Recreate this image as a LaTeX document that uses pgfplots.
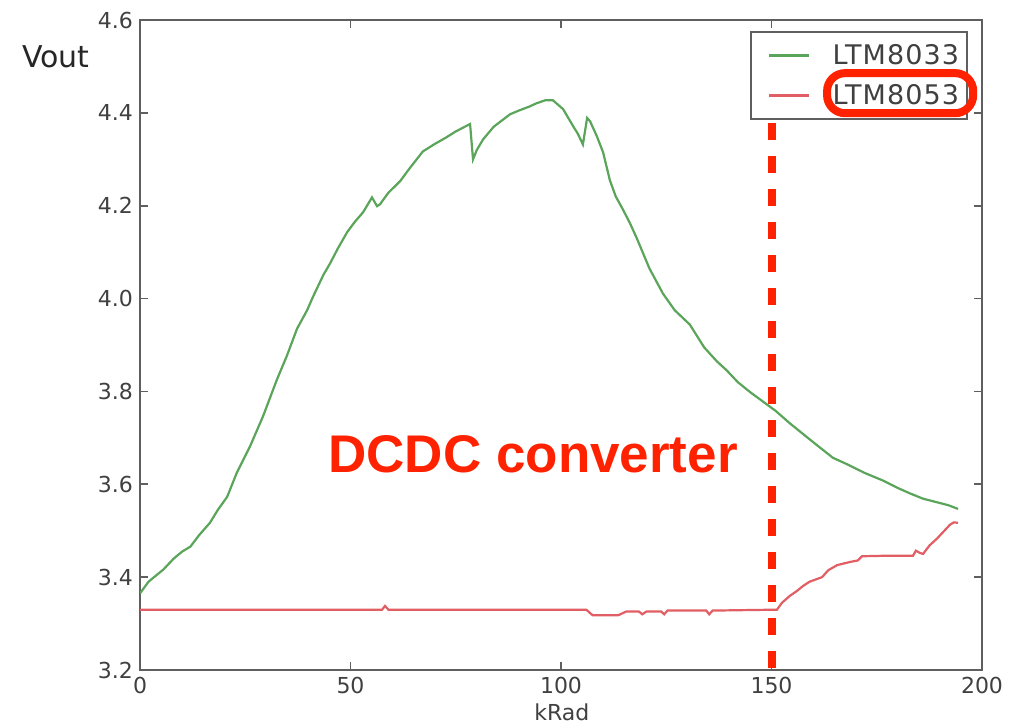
\documentclass[border=0pt]{standalone}
\usepackage{pgfplots}
\pgfplotsset{compat=1.18}
\usepackage{fontspec}
\setmainfont{DejaVu Sans}
\newfontfamily\helv{Liberation Sans}
\newfontfamily\legfont[LetterSpace=4]{DejaVu Sans}

\definecolor{mplgreen}{RGB}{90,165,90}
\definecolor{mplred}{RGB}{225,95,100}
\definecolor{annot}{RGB}{255,34,0}
\definecolor{framegray}{RGB}{95,95,95}

\begin{document}
\begin{tikzpicture}
\begin{axis}[
    scale only axis,
    width=421pt, height=325pt,
    xmin=0, xmax=200,
    ymin=3.2, ymax=4.6,
    xtick={0,50,100,150,200},
    ytick={3.2,3.4,3.6,3.8,4.0,4.2,4.4,4.6},
    yticklabel style={/pgf/number format/.cd, fixed, fixed zerofill, precision=1},
    /pgf/number format/assume math mode=true,
    tick align=inside,
    major tick length=4pt,
    axis line style={framegray, line width=1.3pt},
    tick style={framegray, line width=0.8pt},
    ticklabel style={font=\fontsize{11}{13}\selectfont, text=black!75},
    xlabel={kRad},
    xlabel style={at={(axis description cs:0.501,0)}, anchor=base, yshift=-25pt,
                  font=\fontsize{11}{13}\selectfont, text=black!75},
    ylabel={Vout},
    ylabel style={rotate=-90, at={(axis description cs:-0.0998,0.943)}, anchor=center,
                  font=\fontsize{15}{18}\selectfont, text=black!85},
    legend style={at={(rel axis cs:0.9834,0.983)}, anchor=north east,
                  draw=framegray, line width=1pt, text=black!75,
                  font=\legfont\fontsize{13.5}{15}\selectfont,
                  row sep=4.5pt, inner xsep=2pt, inner ysep=4pt},
    legend cell align=left,
    legend image code/.code={
      \path[draw=none, fill=none] (-7pt,0pt) -- (30pt,0pt);
      \draw[#1, line width=1.2pt] (0pt,0pt) -- (20pt,0pt);},
]

% LTM8033
\addplot[mplgreen, line width=1.1pt] coordinates {
 (0,3.365) (2,3.39) (4,3.405) (5.5,3.416) (8,3.44) (10,3.455) (12,3.466)
 (14,3.49) (16.6,3.517) (18.5,3.545) (20.7,3.573) (23,3.625) (26.1,3.681)
 (29.2,3.746) (32.5,3.825) (34.9,3.877) (37.3,3.935) (39.7,3.975) (41,4.002)
 (43.5,4.05) (45.1,4.075) (47,4.108) (49.2,4.143) (51,4.165) (53,4.186)
 (55.1,4.218) (56.3,4.199) (57,4.203) (59,4.228) (61.8,4.253) (64,4.28)
 (67.2,4.317) (70,4.333) (72.9,4.348) (75,4.36) (78.4,4.376) (79.1,4.300)
 (80,4.32) (81.5,4.343) (84,4.37) (87.9,4.397) (90,4.405) (92.6,4.414)
 (94,4.42) (96.2,4.427) (98.1,4.427) (100.5,4.408) (102.9,4.371) (104,4.355)
 (105.2,4.332) (106.2,4.389) (106.9,4.382) (108.5,4.35) (110,4.315)
 (111.6,4.255) (113,4.22) (114.7,4.192) (116.4,4.162) (118,4.13) (121,4.065)
 (124.2,4.011) (127,3.975) (130.6,3.944) (134,3.895) (137,3.865) (139.4,3.845)
 (142,3.82) (145,3.798) (148.9,3.772) (151,3.758) (154.4,3.731) (157,3.712)
 (160,3.69) (164.6,3.657) (168,3.643) (172,3.625) (176.5,3.608) (180,3.592)
 (183,3.58) (186,3.569) (189,3.562) (192,3.555) (194.3,3.547)
};
\addlegendentry{LTM8033}

% LTM8053
\addplot[mplred, line width=1.1pt] coordinates {
 (0,3.33) (57.5,3.33) (58.2,3.338) (59,3.33) (106,3.33) (107.5,3.318)
 (113.6,3.318) (115.5,3.326) (118.5,3.326) (119.3,3.32) (120.3,3.326)
 (123.8,3.326) (124.5,3.32) (125.3,3.328) (134.5,3.328) (135.2,3.32)
 (136,3.328) (151.3,3.33) (152.5,3.345) (154.4,3.36) (156,3.37) (157.5,3.381)
 (159,3.39) (160.8,3.396) (162,3.40) (163.5,3.415) (165.6,3.426) (168.8,3.433)
 (170.5,3.436) (171.5,3.445) (176.5,3.446) (183.6,3.446) (184.3,3.457)
 (185.3,3.452) (186,3.45) (187.5,3.468) (189.3,3.483) (192.4,3.513)
 (193.3,3.518) (194.3,3.517)
};
\addlegendentry{LTM8053}

% annotations
\draw[annot, line width=4pt, dash pattern=on 8.3pt off 8.2pt]
  (axis cs:150,4.378) -- (axis cs:150,3.2);
\node[anchor=base west, inner sep=0pt, text=annot,
      font=\helv\bfseries\fontsize{26.5}{30}\selectfont]
  at (axis cs:44.66,3.625) {DCDC converter};

\coordinate (ovA) at (axis cs:163.2,4.3993);
\coordinate (ovB) at (axis cs:197.9,4.4856);
\coordinate (bbSW) at (rel axis cs:-0.16627,-0.08615);
\coordinate (bbNE) at (rel axis cs:1.04157,1.03077);
\end{axis}
\draw[annot, line width=4pt, rounded corners=9pt] (ovA) rectangle (ovB);
\pgfresetboundingbox
\path[use as bounding box] (bbSW) rectangle (bbNE);
\end{tikzpicture}
\end{document}
